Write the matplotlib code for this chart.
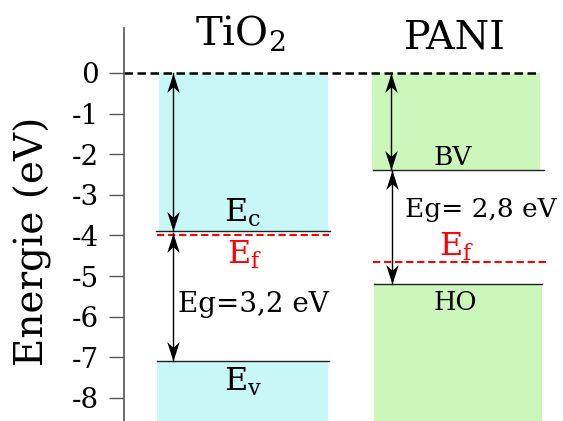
import matplotlib
matplotlib.use("Agg")
import matplotlib.pyplot as plt
from matplotlib.patches import Rectangle
from matplotlib.path import Path

plt.rcParams['font.family'] = ['DejaVu Serif']
plt.rcParams['mathtext.fontset'] = 'dejavuserif'

# niveaux d'énergie (eV)
yticks = [0, -1, -2, -3, -4, -5, -6, -7, -8]
tio2_ec, tio2_ev, tio2_ef = -3.9, -7.1, -4.0
pani_bv, pani_ho, pani_ef = -2.4, -5.2, -4.65
tio2_gap = "Eg=3,2 eV"
pani_gap = "Eg= 2,8 eV"

cyan = '#c8f7f7'
green = '#ccf7bb'

# tête de flèche type "stealth" (pointe à l'origine)
up_head = Path([(0, 0), (-0.32, -1), (0, -0.7), (0.32, -1), (0, 0)],
               [Path.MOVETO, Path.LINETO, Path.LINETO, Path.LINETO, Path.CLOSEPOLY])
down_head = Path([(0, 0), (-0.32, 1), (0, 0.7), (0.32, 1), (0, 0)],
                 [Path.MOVETO, Path.LINETO, Path.LINETO, Path.LINETO, Path.CLOSEPOLY])


def double_arrow(ax, x, top, bottom):
    ax.plot([x, x], [top, bottom], color='k', lw=1)
    ax.plot([x], [top], marker=up_head, ms=28, color='k', mew=0)
    ax.plot([x], [bottom], marker=down_head, ms=28, color='k', mew=0)


fig = plt.figure(figsize=(5.63, 4.21), dpi=100)
ax = fig.add_axes([124 / 563, 0, 439 / 563, 1 - 28 / 421])
ax.set_xlim(0, 439)
ax.set_ylim(-8.57, 1.108)

# bandes TiO2
ax.add_patch(Rectangle((35, tio2_ec), 169, -tio2_ec, color=cyan, lw=0))
ax.add_patch(Rectangle((33, -9), 171, tio2_ev + 9, color=cyan, lw=0))
# bandes PANI
ax.add_patch(Rectangle((248, pani_bv), 168, -pani_bv, color=green, lw=0))
ax.add_patch(Rectangle((250, -9), 168, pani_ho + 9, color=green, lw=0))

# niveaux
ax.plot([32, 206], [tio2_ec, tio2_ec], color='#222222', lw=1)
ax.plot([33, 205], [tio2_ev, tio2_ev], color='#222222', lw=1)
ax.plot([249, 420], [pani_bv, pani_bv], color='#222222', lw=1)
ax.plot([250, 418], [pani_ho, pani_ho], color='#222222', lw=1)
ax.plot([0, 416], [0, 0], color='k', lw=1.8, dashes=(3.4, 1.8))
ax.plot([33, 205], [tio2_ef, tio2_ef], color='red', lw=1.5, dashes=(3.5, 1.8))
ax.plot([249, 422], [pani_ef, pani_ef], color='red', lw=1.5, dashes=(3.5, 1.8))

# flèches
double_arrow(ax, 49, 0, tio2_ec)
double_arrow(ax, 49, tio2_ef + 0.05, tio2_ev)
double_arrow(ax, 267, 0, pani_bv)
double_arrow(ax, 268, pani_bv, pani_ho)

# textes
ax.text(116, 0.98, r'TiO$_2$', fontsize=29, ha='center', va='center')
ax.text(331, 0.85, 'PANI', fontsize=28.5, ha='center', va='center')
ax.text(119, -3.45, r'E$_\mathrm{c}$', fontsize=23, ha='center', va='center')
ax.text(121, -4.48, r'E$_\mathrm{f}$', fontsize=23, ha='center', va='center', color='red')
ax.text(54, -5.71, tio2_gap, fontsize=20, ha='left', va='center')
ax.text(119, -7.6, r'E$_\mathrm{v}$', fontsize=23, ha='center', va='center')
ax.text(329, -2.07, 'BV', fontsize=19, ha='center', va='center')
ax.text(281, -3.35, pani_gap, fontsize=19, ha='left', va='center')
ax.text(333, -4.28, r'E$_\mathrm{f}$', fontsize=23, ha='center', va='center', color='red')
ax.text(331, -5.64, 'HO', fontsize=18.5, ha='center', va='center')

# axe
for s in ['top', 'right', 'bottom']:
    ax.spines[s].set_visible(False)
ax.spines['left'].set_color('#555555')
ax.spines['left'].set_linewidth(1.2)
ax.set_xticks([])
ax.set_yticks(yticks)
ax.set_yticklabels([str(v) for v in yticks])
ax.tick_params(axis='y', length=11, width=1, color='#555555', pad=7, labelsize=20)
ax.set_ylabel('Energie (eV)', fontsize=28)
ax.yaxis.set_label_coords(-0.164, 0.458)

fig.savefig('out.png', dpi=100)
